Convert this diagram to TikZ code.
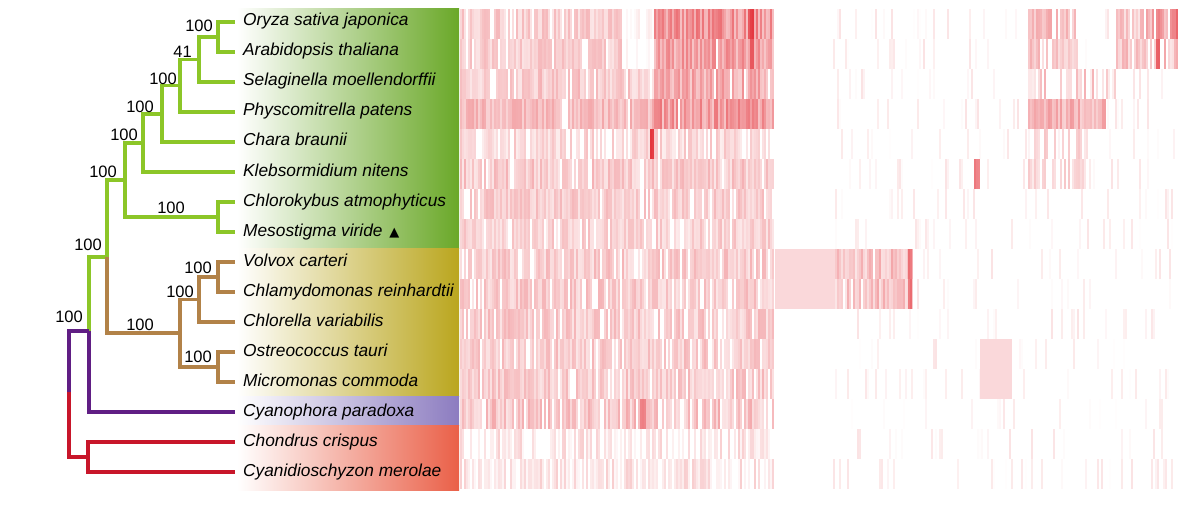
\documentclass[tikz,border=0pt]{standalone}
\usepackage{fontspec}
\setmainfont{Liberation Sans}
\newfontfamily\symfont{DejaVu Sans}
\usepackage{tikz}
\usetikzlibrary{positioning}

\definecolor{treegreen}{RGB}{140,198,40}
\definecolor{treebrown}{RGB}{178,130,72}
\definecolor{treepurple}{RGB}{96,30,132}
\definecolor{treered}{RGB}{200,22,42}
\definecolor{boxgreen}{RGB}{106,168,40}
\definecolor{boxolive}{RGB}{186,166,30}
\definecolor{boxpurple}{RGB}{140,124,192}
\definecolor{boxred}{RGB}{234,96,72}
\definecolor{heatred}{RGB}{226,40,48}

\tikzstyle{leaf} = [anchor=west, inner xsep=8pt, inner ysep=0pt, text height=12.5pt, text depth=4.5pt, font=\fontsize{17.3}{20}\selectfont\itshape]
\tikzstyle{boot} = [anchor=base east, inner sep=0pt, font=\fontsize{16.5}{19}\selectfont]
\tikzstyle{grn} = [line width=3.3pt, treegreen]
\tikzstyle{brn} = [line width=3.3pt, treebrown]
\tikzstyle{prp} = [line width=3.3pt, treepurple]
\tikzstyle{rd} = [line width=3.3pt, treered]

% row, x0, count, stripe width, base %, spread %, white share
\newcommand{\heatseg}[7]{%
  \foreach \sk in {1,...,#3}{%
    \pgfmathsetmacro{\hx}{#2+#4*(\sk-1)}%
    \pgfmathtruncatemacro{\hp}{rnd<#7 ? 0 : #5+#6*rnd}%
    \fill[heatred!\hp!white] (\hx,{9+30*(#1-1)}) rectangle ++(#4,30);
  }%
}

\begin{document}
\begin{tikzpicture}[x=1pt, y=-1pt]
	\useasboundingbox (0,0) rectangle (1198,508);
	\pgfmathsetseed{17}
	
	% clade backgrounds
	\shade[left color=white, right color=boxgreen] (237,9) rectangle (459,248);
	\shade[left color=white, right color=boxolive] (237,248) rectangle (459,396);
	\shade[left color=white, right color=boxpurple] (237,396) rectangle (459,425);
	\shade[left color=white, right color=boxred] (237,425) rectangle (459,490);
	
	% heat map, first block
	\heatseg{1}{460}{81}{2}{12}{22}{0.12}
	\heatseg{1}{622}{16}{2}{0}{12}{0.6}
	\heatseg{1}{654}{60}{2}{28}{40}{0.05}
	\heatseg{1}{748}{3}{2}{70}{25}{0}
	\heatseg{2}{460}{81}{2}{12}{22}{0.12}
	\heatseg{2}{622}{16}{2}{0}{12}{0.6}
	\heatseg{2}{654}{60}{2}{25}{35}{0.05}
	\heatseg{2}{750}{2}{2}{75}{20}{0}
	\heatseg{3}{460}{97}{2}{12}{25}{0.12}
	\heatseg{3}{654}{60}{2}{18}{35}{0.1}
	\heatseg{4}{460}{97}{2}{20}{22}{0.05}
	\heatseg{4}{654}{60}{2}{25}{40}{0.05}
	\heatseg{5}{460}{157}{2}{8}{22}{0.25}
	\heatseg{5}{650}{2}{2}{85}{10}{0}
	\heatseg{6}{460}{157}{2}{12}{25}{0.08}
	\heatseg{7}{460}{157}{2}{12}{22}{0.12}
	\heatseg{8}{460}{157}{2}{10}{22}{0.2}
	\foreach \r in {9,...,13}{\heatseg{\r}{460}{157}{2}{12}{24}{0.15}}
	\heatseg{14}{460}{157}{2}{12}{30}{0.15}
	\heatseg{14}{640}{3}{2}{55}{20}{0}
	\heatseg{15}{460}{157}{2}{4}{20}{0.35}
	\heatseg{16}{460}{157}{2}{4}{20}{0.35}
	
	% heat map, second block
	\foreach \r in {1,...,16}{\heatseg{\r}{833}{172}{2}{0}{14}{0.86}}
	\heatseg{1}{1028}{25}{2}{18}{25}{0.2}
	\heatseg{1}{1116}{31}{2}{12}{25}{0.1}
	\heatseg{1}{1142}{18}{2}{25}{35}{0.1}
	\heatseg{1}{1172}{3}{2}{55}{20}{0}
	\heatseg{2}{1028}{25}{2}{15}{25}{0.2}
	\heatseg{2}{1116}{31}{2}{12}{30}{0.1}
	\heatseg{2}{1156}{2}{2}{70}{10}{0}
	\heatseg{3}{1028}{44}{2}{8}{30}{0.35}
	\heatseg{4}{1028}{39}{2}{20}{28}{0.05}
	\heatseg{5}{1028}{30}{2}{5}{25}{0.4}
	\heatseg{6}{1028}{30}{2}{5}{22}{0.4}
	\heatseg{6}{974}{3}{2}{55}{20}{0}
	\heatseg{9}{775}{30}{2}{18}{0}{0}
	\heatseg{9}{835}{39}{2}{12}{30}{0.15}
	\heatseg{9}{908}{2}{2}{60}{20}{0}
	\heatseg{10}{775}{30}{2}{18}{0}{0}
	\heatseg{10}{835}{39}{2}{12}{30}{0.15}
	\heatseg{10}{908}{2}{2}{60}{20}{0}
	\heatseg{12}{980}{16}{2}{18}{0}{0}
	\heatseg{13}{980}{16}{2}{18}{0}{0}
	
	% species
	\node (oryza) [leaf] at (235,22) {Oryza sativa japonica};
	\node (arabid) [leaf, below=30pt of oryza.west, anchor=west] {Arabidopsis thaliana};
	\node (selag) [leaf, below=30pt of arabid.west, anchor=west] {Selaginella moellendorffii};
	\node (physco) [leaf, below=30pt of selag.west, anchor=west] {Physcomitrella patens};
	\node (chara) [leaf, below=30pt of physco.west, anchor=west] {Chara braunii};
	\node (klebs) [leaf, below=30pt of chara.west, anchor=west] {Klebsormidium nitens};
	\node (chloky) [leaf, below=30pt of klebs.west, anchor=west] {Chlorokybus atmophyticus};
	\node (mesost) [leaf, below=30pt of chloky.west, anchor=west] {Mesostigma viride \hspace{2pt}{\symfont\upshape\fontsize{13}{15}\selectfont ▲}};
	\node (volvox) [leaf, below=30pt of mesost.west, anchor=west] {Volvox carteri};
	\node (chlamy) [leaf, below=30pt of volvox.west, anchor=west] {Chlamydomonas reinhardtii};
	\node (chlore) [leaf, below=30pt of chlamy.west, anchor=west] {Chlorella variabilis};
	\node (ostreo) [leaf, below=30pt of chlore.west, anchor=west] {Ostreococcus tauri};
	\node (micro) [leaf, below=30pt of ostreo.west, anchor=west] {Micromonas commoda};
	\node (cyanoph) [leaf, below=30pt of micro.west, anchor=west] {Cyanophora paradoxa};
	\node (chondr) [leaf, below=30pt of cyanoph.west, anchor=west] {Chondrus crispus};
	\node (cyanid) [leaf, below=30pt of chondr.west, anchor=west] {Cyanidioschyzon merolae};
	
	% inner nodes of the tree
	\coordinate (nOA) at (218,37);
	\coordinate (nOAS) at (199,59.5);
	\coordinate (nLand) at (180,85.75);
	\coordinate (nChara) at (162,114);
	\coordinate (nKleb) at (143,143);
	\coordinate (nCM) at (218,217);
	\coordinate (nStrep) at (125,180);
	\coordinate (nVC) at (218,277);
	\coordinate (nVCC) at (199,299.5);
	\coordinate (nOM) at (218,367);
	\coordinate (nChlo) at (180,333);
	\coordinate (nVir) at (107,257);
	\coordinate (nPlant) at (89,331);
	\coordinate (nRed) at (88,457);
	\coordinate (root) at (69,392);
	
	% branches
	\draw [grn] (nOA) |- (oryza.west);
	\draw [grn] (nOA) |- (arabid.west);
	\draw [grn] (nOAS) |- (nOA);
	\draw [grn] (nOAS) |- (selag.west);
	\draw [grn] (nLand) |- (nOAS);
	\draw [grn] (nLand) |- (physco.west);
	\draw [grn] (nChara) |- (nLand);
	\draw [grn] (nChara) |- (chara.west);
	\draw [grn] (nKleb) |- (nChara);
	\draw [grn] (nKleb) |- (klebs.west);
	\draw [grn] (nCM) |- (chloky.west);
	\draw [grn] (nCM) |- (mesost.west);
	\draw [grn] (nStrep) |- (nKleb);
	\draw [grn] (nStrep) |- (nCM);
	\draw [grn] (nVir) |- (nStrep);
	\draw [grn] (nPlant) |- (nVir);
	\draw [brn] (nVir) |- (nChlo);
	\draw [brn] (nChlo) |- (nVCC);
	\draw [brn] (nChlo) |- (nOM);
	\draw [brn] (nVCC) |- (nVC);
	\draw [brn] (nVCC) |- (chlore.west);
	\draw [brn] (nVC) |- (volvox.west);
	\draw [brn] (nVC) |- (chlamy.west);
	\draw [brn] (nOM) |- (ostreo.west);
	\draw [brn] (nOM) |- (micro.west);
	\draw [prp] (nPlant) |- (cyanoph.west);
	\draw [prp] (root) |- (nPlant);
	\draw [rd] (root) |- (nRed);
	\draw [rd] (nRed) |- (chondr.west);
	\draw [rd] (nRed) |- (cyanid.west);
	
	% bootstrap values
	\node (b1) [boot] at (213,32) {100};
	\node (b2) [boot] at (192,58) {41};
	\node (b3) [boot] at (177,85) {100};
	\node (b4) [boot] at (154,113) {100};
	\node (b5) [boot] at (138,140) {100};
	\node (b6) [boot] at (117,177) {100};
	\node (b7) [boot] at (185,213) {100};
	\node (b8) [boot] at (102,250) {100};
	\node (b9) [boot] at (212,273) {100};
	\node (b10) [boot] at (194,297) {100};
	\node (b11) [boot] at (154,330) {100};
	\node (b12) [boot] at (212,362) {100};
	\node (b13) [boot] at (83,322) {100};
	
\end{tikzpicture}
\end{document}
